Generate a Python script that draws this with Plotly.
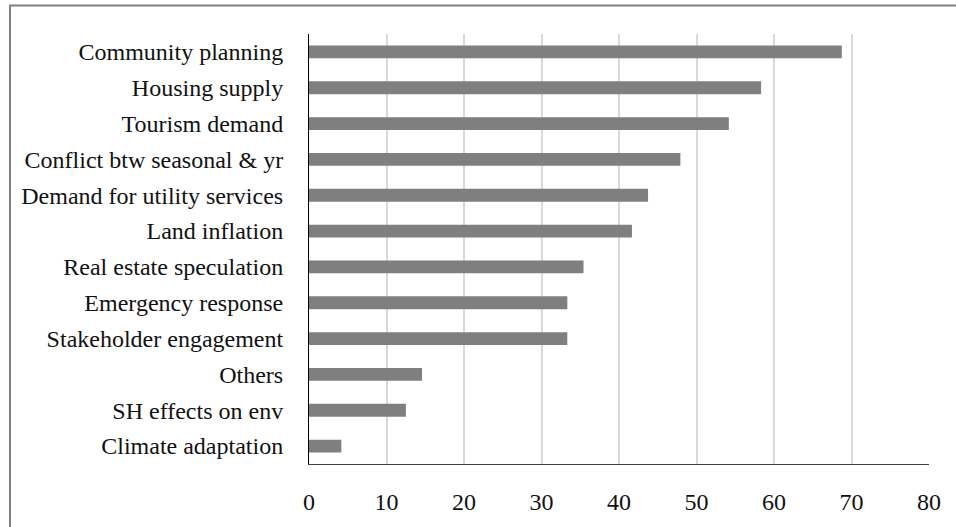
import plotly.graph_objects as go

# Issues ranked by share of responses (%), listed top to bottom
issues = [
    "Community planning",
    "Housing supply",
    "Tourism demand",
    "Conflict btw seasonal & yr",
    "Demand for utility services",
    "Land inflation",
    "Real estate speculation",
    "Emergency response",
    "Stakeholder engagement",
    "Others",
    "SH effects on env",
    "Climate adaptation",
]
shares = [68.75, 58.33, 54.17, 47.92, 43.75, 41.67, 35.42, 33.33, 33.33, 14.58, 12.5, 4.17]
x_ticks = [0, 10, 20, 30, 40, 50, 60, 70, 80]

W, H = 956, 527
M_L, M_R, M_T, M_B = 309, 27, 34, 55
plot_w = W - M_L - M_R
plot_h = H - M_T - M_B


def px_to_paper_x(px):
    return (px - M_L) / plot_w


def px_to_paper_y(py):
    return (H - M_B - py) / plot_h


fig = go.Figure(
    go.Bar(
        x=shares,
        y=issues,
        orientation="h",
        marker=dict(color="#7f7f7f", line=dict(width=0)),
        hoverinfo="x+y",
    )
)

serif = "'Liberation Serif', 'Times New Roman', Times, 'DejaVu Serif', serif"

fig.update_layout(
    width=W,
    height=H,
    margin=dict(l=M_L, r=M_R, t=M_T, b=M_B, pad=0),
    paper_bgcolor="white",
    plot_bgcolor="white",
    bargap=0.64,
    showlegend=False,
    font=dict(family=serif, size=24, color="#111111"),
    xaxis=dict(
        range=[0, 80],
        tickvals=x_ticks,
        ticktext=[str(t) for t in x_ticks],
        showgrid=True,
        gridcolor="#d9d9d9",
        gridwidth=1.5,
        zeroline=False,
        showline=True,
        linecolor="#404040",
        linewidth=1,
        ticks="",
        ticklabelstandoff=16,
        tickfont=dict(family=serif, size=24, color="#111111"),
        fixedrange=True,
    ),
    yaxis=dict(
        categoryorder="array",
        categoryarray=issues,
        autorange="reversed",
        showgrid=False,
        zeroline=False,
        showline=True,
        linecolor="#000000",
        linewidth=1,
        ticks="",
        ticklabelstandoff=20,
        tickfont=dict(family=serif, size=24, color="#111111"),
        fixedrange=True,
    ),
    shapes=[
        # chart frame (only left and top edges fall inside the page)
        dict(
            type="rect",
            xref="paper",
            yref="paper",
            x0=px_to_paper_x(10),
            x1=px_to_paper_x(W + 60),
            y0=px_to_paper_y(H + 60),
            y1=px_to_paper_y(5),
            line=dict(color="#808080", width=2),
            fillcolor="rgba(0,0,0,0)",
            layer="below",
        )
    ],
)

fig.write_html("out.html")
